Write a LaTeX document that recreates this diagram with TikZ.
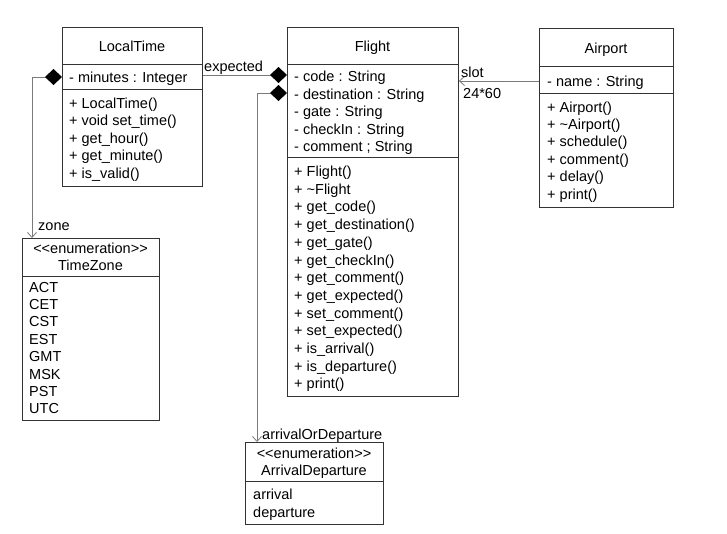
\documentclass[tikz,border=0pt]{standalone}
\usepackage{fontspec}
\setmainfont{Liberation Sans}
\usetikzlibrary{arrows.meta}
\definecolor{boxc}{HTML}{333333}
\definecolor{connc}{HTML}{7A7A7A}
\newcommand{\fs}{\fontsize{14.5}{17.7}\selectfont}
\newcommand{\enumst}{<\kern0pt<enumeration>\kern0pt>}
\begin{document}
\begin{tikzpicture}[x=1pt,y=-1pt,
  box/.style={draw=boxc, line width=0.9pt, inner sep=0pt, anchor=north west},
  divl/.style={draw=boxc, line width=0.9pt},
  txt/.style={anchor=base west, inner sep=0pt, font=\fs, text=black},
  ctxt/.style={anchor=base, inner sep=0pt, font=\fs, text=black},
  conn/.style={draw=connc, line width=0.9pt},
  dia/.style={{Diamond[length=17pt,width=16pt,color=black,fill=black]}-},
  opn/.style={-{Straight Barb[length=5pt,width=9pt,line width=0.8pt]}},
  diaopn/.style={{Diamond[length=17pt,width=16pt,color=black,fill=black]}-{Straight Barb[length=5pt,width=9pt,line width=0.8pt]}}
]
\useasboundingbox (0,0) rectangle (727,533);
\fill[white] (0,0) rectangle (727,533);

% ---------- boxes ----------
\node[box, minimum width=140pt, minimum height=159pt] (lt) at (62,27) {};
\node[box, minimum width=171pt, minimum height=369pt] (fl) at (287,27) {};
\node[box, minimum width=134pt, minimum height=179pt] (ap) at (539,28) {};
\node[box, minimum width=137pt, minimum height=182pt] (tz) at (22,238) {};
\node[box, minimum width=138pt, minimum height=82pt] (ad) at (245,442) {};

% dividers
\draw[divl] (lt.west |- 0,64) -- (lt.east |- 0,64);
\draw[divl] (lt.west |- 0,89) -- (lt.east |- 0,89);
\draw[divl] (fl.west |- 0,64) -- (fl.east |- 0,64);
\draw[divl] (fl.west |- 0,157) -- (fl.east |- 0,157);
\draw[divl] (ap.west |- 0,66) -- (ap.east |- 0,66);
\draw[divl] (ap.west |- 0,93) -- (ap.east |- 0,93);
\draw[divl] (tz.west |- 0,276) -- (tz.east |- 0,276);
\draw[divl] (ad.west |- 0,481) -- (ad.east |- 0,481);

% ---------- LocalTime ----------
\node[ctxt] (ltname) at (132,51) {LocalTime};
\node[txt] (lta0) at (69,82) {- minutes : Integer};
\foreach \s [count=\i from 0] in {{+ LocalTime()},{+ void set\_time()},{+ get\_hour()},{+ get\_minute()},{+ is\_valid()}}
  \node[txt] (ltm\i) at (69,{108+\i*17.6}) {\s};

% ---------- Flight ----------
\node[ctxt] (flname) at (372.5,51) {Flight};
\foreach \s [count=\i from 0] in {{- code : String},{- destination : String},{- gate : String},{- checkIn : String},{- comment ; String}}
  \node[txt] (fla\i) at (294,{81.5+\i*17.5}) {\s};
\foreach \s [count=\i from 0] in {{+ Flight()},{+ \textasciitilde Flight},{+ get\_code()},{+ get\_destination()},{+ get\_gate()},{+ get\_checkIn()},{+ get\_comment()},{+ get\_expected()},{+ set\_comment()},{+ set\_expected()},{+ is\_arrival()},{+ is\_departure()},{+ print()}}
  \node[txt] (flm\i) at (294,{176.5+\i*17.7}) {\s};

% ---------- Airport ----------
\node[ctxt] (apname) at (606,53) {Airport};
\node[txt] (apa0) at (547,86) {- name : String};
\foreach \s [count=\i from 0] in {{+ Airport()},{+ \textasciitilde Airport()},{+ schedule()},{+ comment()},{+ delay()},{+ print()}}
  \node[txt] (apm\i) at (547,{112+\i*17.4}) {\s};

% ---------- TimeZone ----------
\node[ctxt] (tzst) at (90.5,253) {\enumst};
\node[ctxt] (tzname) at (90.5,270) {TimeZone};
\foreach \s [count=\i from 0] in {ACT,CET,CST,EST,GMT,MSK,PST,UTC}
  \node[txt] (tzv\i) at (29,{292+\i*17.4}) {\s};

% ---------- ArrivalDeparture ----------
\node[ctxt] (adst) at (314,458) {\enumst};
\node[ctxt] (adname) at (314,475) {ArrivalDeparture};
\node[txt] (adv0) at (253,499) {arrival};
\node[txt] (adv1) at (253,517) {departure};

% ---------- connectors ----------
\coordinate (c1) at (32,77);
\coordinate (c2) at (257,93);

\draw[conn,dia] (fl.west |- 0,75) -- (lt.east |- 0,75);
\draw[conn,diaopn] (lt.west |- 0,77) -- (c1) -- (c1 |- tz.north);
\draw[conn,diaopn] (fl.west |- 0,93) -- (c2) -- (c2 |- ad.north);
\draw[conn,opn] (ap.west |- 0,81) -- (fl.east |- 0,81);

% labels
\node[txt] (lexp) at (204,71) {expected};
\node[txt] (lslot) at (461,77) {slot};
\node[txt] (lmult) at (463,98) {24*60};
\node[txt] (lzone) at (38,230) {zone};
\node[txt] (larr) at (262,439) {arrivalOrDeparture};
\end{tikzpicture}
\end{document}
